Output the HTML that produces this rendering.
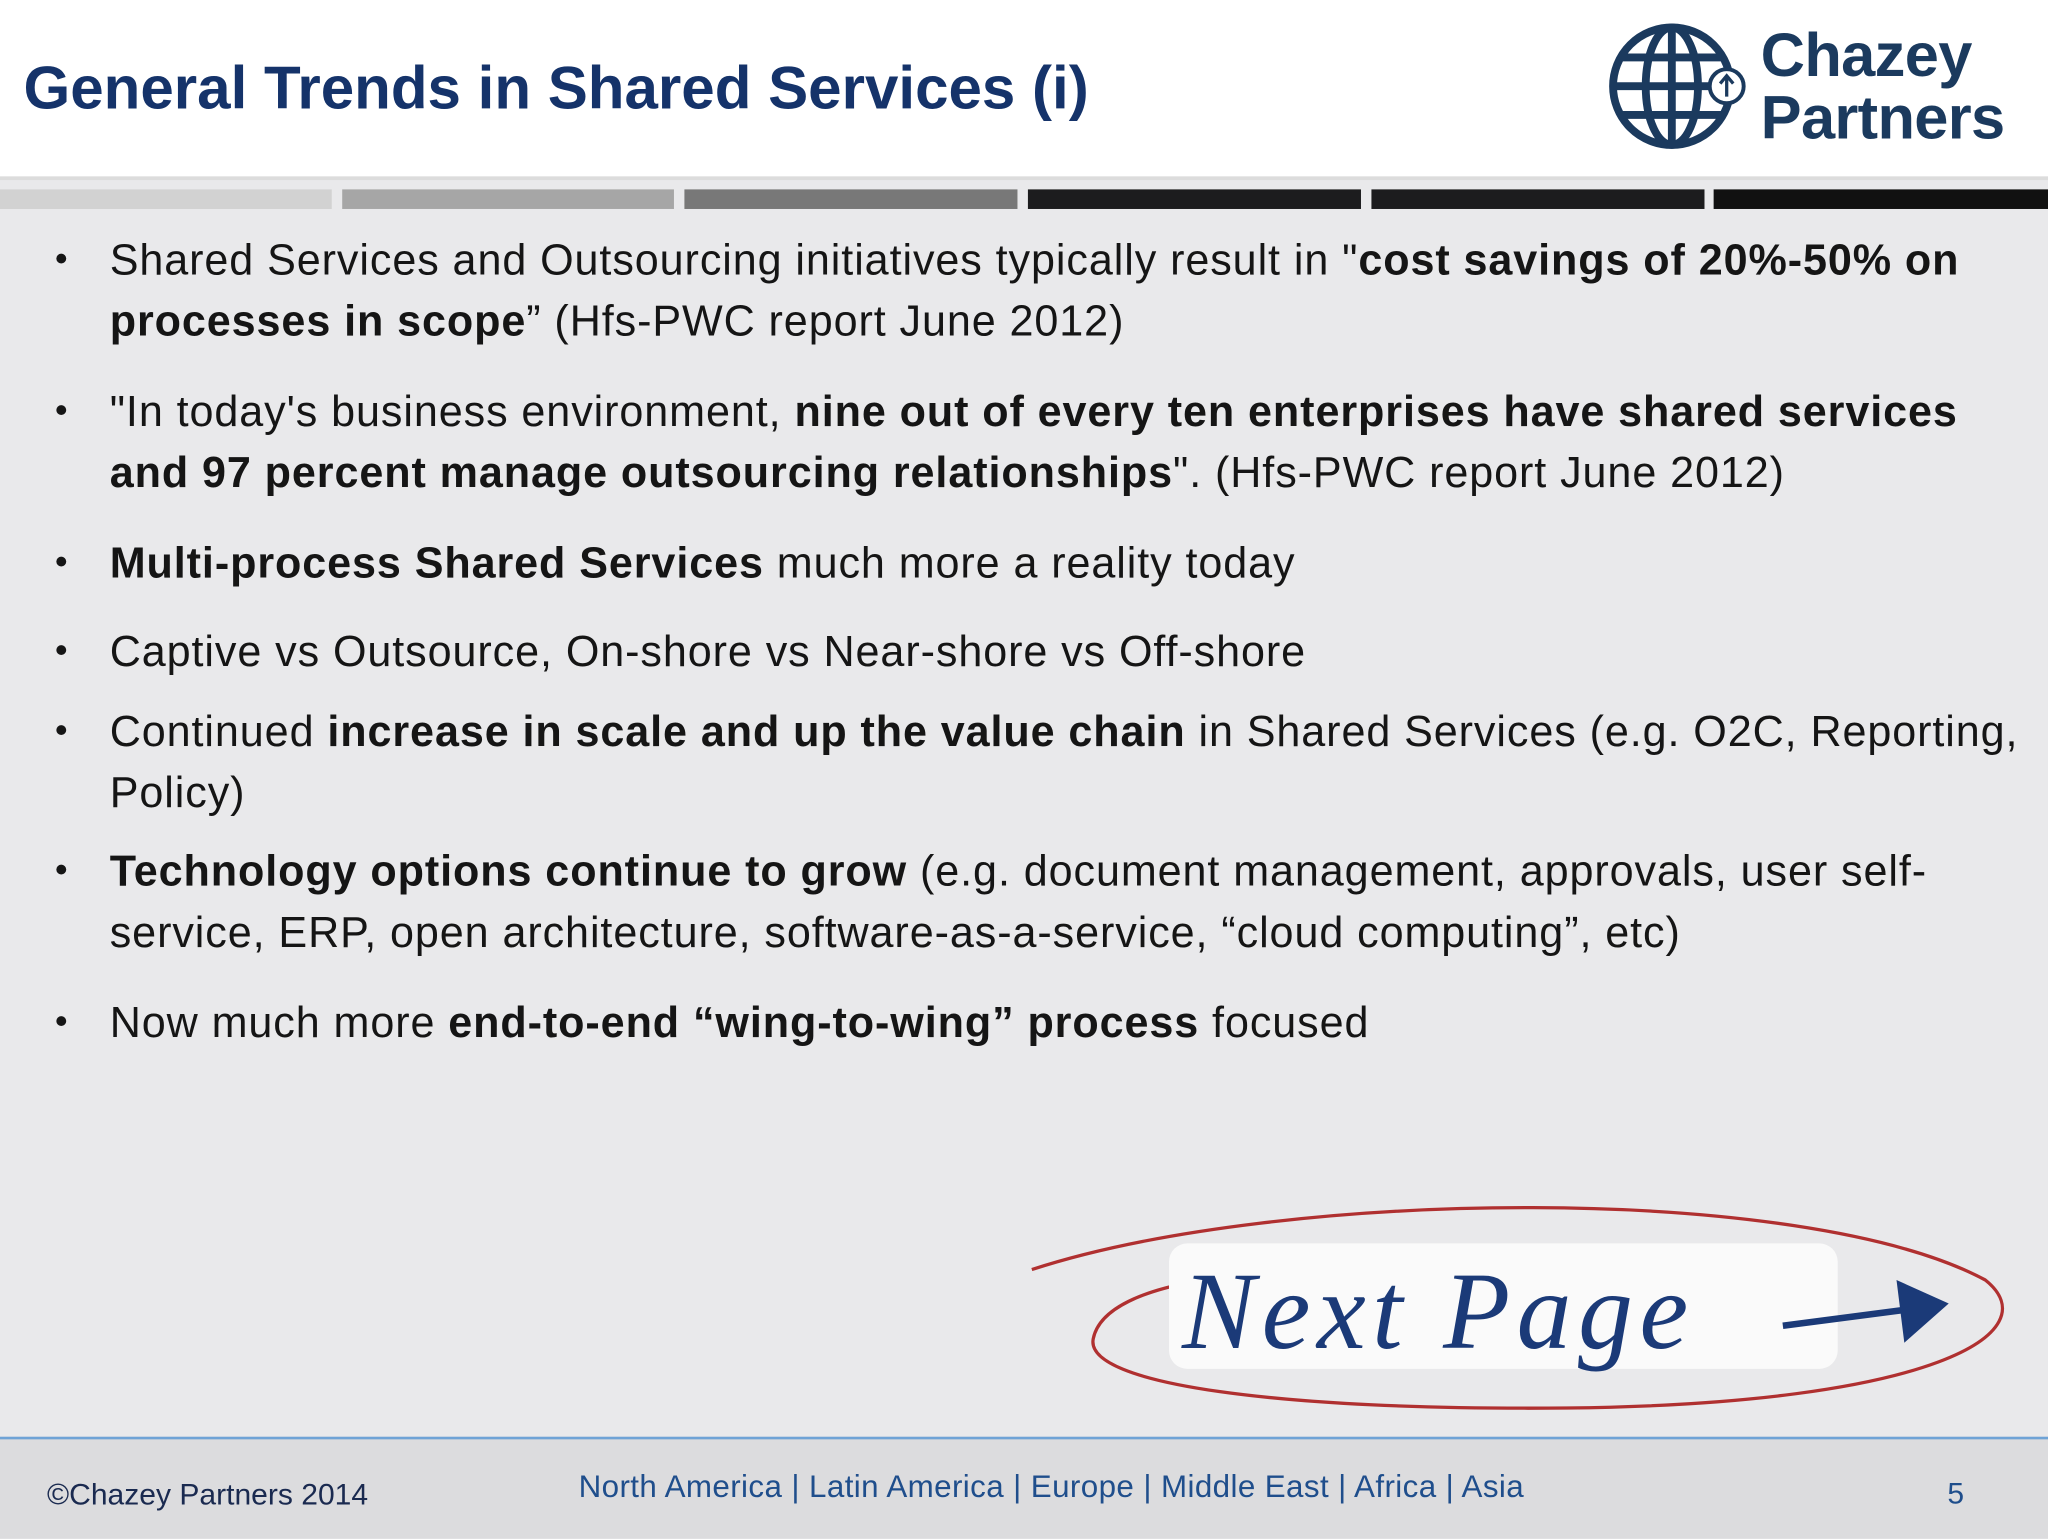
<!DOCTYPE html>
<html><head><meta charset="utf-8"><style>
html,body{margin:0;padding:0;width:2048px;height:1536px;overflow:hidden;background:#e9e9eb;}
#s{position:absolute;left:0;top:0;width:1568px;height:1176px;transform:scale(1.306122);transform-origin:0 0;background:#e9e9eb;font-family:"Liberation Sans",sans-serif;}
.abs{position:absolute;}
.ln{position:absolute;left:84px;white-space:nowrap;font-size:33px;letter-spacing:0.7px;color:#151515;}
.bl{position:absolute;left:42px;font-size:28px;color:#151515;}
b{font-weight:bold;}
</style></head><body>
<div id="s">
<div class="abs" style="left:0;top:0;width:1568px;height:135px;background:#fff;border-bottom:3px solid #dcdcdc;"></div>
<div class="abs" style="left:18px;top:40px;font-size:46px;font-weight:bold;color:#15336a;white-space:nowrap;">General Trends in Shared Services (i)</div>
<svg class="abs" style="left:1228px;top:14px" width="112" height="104" viewBox="0 0 112 104">
<g fill="none" stroke="#1b3a5e" stroke-width="6"><circle cx="52" cy="52" r="45"/><ellipse cx="52" cy="52" rx="20" ry="45"/><line x1="52" y1="7" x2="52" y2="97"/><line x1="7" y1="52" x2="97" y2="52"/><path d="M14 30 H90 M14 74 H90"/></g>
<circle cx="94" cy="52" r="13" fill="#fff" stroke="#1b3a5e" stroke-width="3"/><path d="M94 60 V45 M89 50 L94 44 L99 50" stroke="#1b3a5e" stroke-width="2.5" fill="none"/></svg>
<div class="abs" style="left:1348px;top:18px;font-size:47px;font-weight:bold;color:#1b3a5e;line-height:48px;letter-spacing:-0.5px;">Chazey<br>Partners</div>
<div class="abs" style="left:0;top:145px;width:254px;height:15px;background:#d2d2d2"></div>
<div class="abs" style="left:262px;top:145px;width:254px;height:15px;background:#a6a6a6"></div>
<div class="abs" style="left:524px;top:145px;width:255px;height:15px;background:#787878"></div>
<div class="abs" style="left:787px;top:145px;width:255px;height:15px;background:#1c1c1e"></div>
<div class="abs" style="left:1050px;top:145px;width:255px;height:15px;background:#1c1c1e"></div>
<div class="abs" style="left:1312px;top:145px;width:256px;height:15px;background:#111"></div>

<div>
<div class="bl" style="top:182px">•</div>
<div class="ln" style="top:180px">Shared Services and Outsourcing initiatives typically result in "<b>cost savings of 20%-50% on</b></div>
<div class="ln" style="top:227px"><b>processes in scope</b>” (Hfs-PWC report June 2012)</div>
<div class="bl" style="top:298px">•</div>
<div class="ln" style="top:296px">"In today's business environment, <b>nine out of every ten enterprises have shared services</b></div>
<div class="ln" style="top:343px"><b>and 97 percent manage outsourcing relationships</b>". (Hfs-PWC report June 2012)</div>
<div class="bl" style="top:414px">•</div>
<div class="ln" style="top:412px"><b>Multi-process Shared Services</b> much more a reality today</div>
<div class="bl" style="top:482px">•</div>
<div class="ln" style="top:480px">Captive vs Outsource, On-shore vs Near-shore vs Off-shore</div>
<div class="bl" style="top:543px">•</div>
<div class="ln" style="top:541px">Continued <b>increase in scale and up the value chain</b> in Shared Services (e.g. O2C, Reporting,</div>
<div class="ln" style="top:588px">Policy)</div>
<div class="bl" style="top:650px">•</div>
<div class="ln" style="top:648px"><b>Technology options continue to grow</b> (e.g. document management, approvals, user self-</div>
<div class="ln" style="top:695px">service, ERP, open architecture, software-as-a-service, “cloud computing”, etc)</div>
<div class="bl" style="top:766px">•</div>
<div class="ln" style="top:764px">Now much more <b>end-to-end “wing-to-wing” process</b> focused</div>
</div>

<svg class="abs" style="left:780px;top:910px" width="770" height="180" viewBox="0 0 770 180">
<path d="M10 62 C200 0 600 -5 740 70 C790 110 700 165 420 168 C200 170 50 150 57 115 C62 90 100 78 130 72" fill="none" stroke="#b03030" stroke-width="2.5"/>
<rect x="115" y="42" width="512" height="96" rx="14" fill="#fafafa"/>
<text x="125" y="122" font-family="Liberation Serif,serif" font-style="italic" font-size="84" fill="#1b3a78" letter-spacing="5">Next Page</text>
<path d="M585 105 L700 90" stroke="#1b3a78" stroke-width="5"/><path d="M672 70 L712 88 L678 118 Z" fill="#1b3a78"/>
</svg>

<div class="abs" style="left:0;top:1100px;width:1568px;height:76px;background:#dcdcde;border-top:2px solid #6fa3d6;"></div>
<div class="abs" style="left:36px;top:1131px;font-size:23px;color:#1a2a50;white-space:nowrap;">©Chazey Partners 2014</div>
<div class="abs" style="left:443px;top:1125px;font-size:24px;color:#1f4e8c;white-space:nowrap;letter-spacing:0.3px;">North America | Latin America | Europe | Middle East | Africa | Asia</div>
<div class="abs" style="left:1491px;top:1130px;font-size:23px;color:#1f4e8c;">5</div>
</div>
</body></html>
